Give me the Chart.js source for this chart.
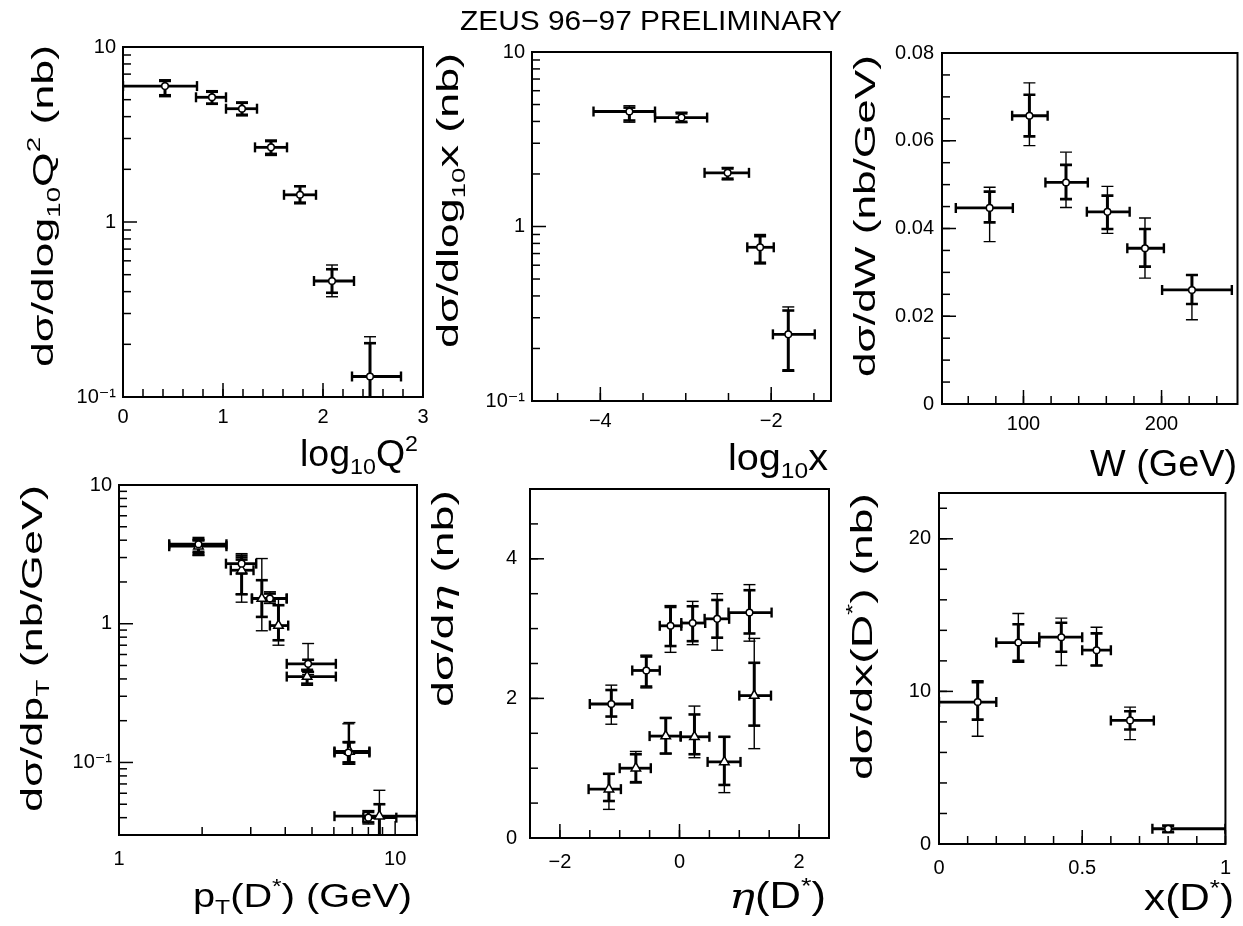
<!DOCTYPE html>
<html><head><meta charset="utf-8">
<script src="https://cdn.jsdelivr.net/npm/chart.js@4.4.0/dist/chart.umd.min.js"></script>
<style>
html,body{margin:0;padding:0;background:#fff;}
#wrap{position:relative;width:1243px;height:926px;overflow:hidden;background:#fff;}
#wrap canvas{position:absolute;left:0;top:0;}
</style></head><body>
<div id="wrap">
<canvas id="c1" width="1243" height="926"></canvas>
<canvas id="c2" width="1243" height="926"></canvas>
<canvas id="c3" width="1243" height="926"></canvas>
<canvas id="c4" width="1243" height="926"></canvas>
<canvas id="c5" width="1243" height="926"></canvas>
<canvas id="c6" width="1243" height="926"></canvas>
</div>
<script>
// ---------------- DATA ----------------
// Panel 1: d sigma / d log10 Q^2
const q2Centers = [0.42, 0.89, 1.19, 1.48, 1.77, 2.09, 2.47];
const q2Sigma   = [5.98, 5.16, 4.44, 2.67, 1.43, 0.46, 0.131];
const q2Bins    = [[0,0.74],[0.73,1.03],[1.03,1.34],[1.32,1.64],[1.61,1.93],[1.91,2.31],[2.29,2.78]];
const q2Stat    = [[5.3,6.4],[4.75,5.55],[4.1,4.8],[2.45,2.9],[1.29,1.6],[0.394,0.537],[0.06,0.203]];
const q2Total   = [[5.2,6.5],[4.7,5.63],[4.04,4.85],[2.4,2.94],[1.27,1.61],[0.374,0.568],[0.05,0.221]];

// Panel 2: d sigma / d log10 x
const xbjCenters = [-3.66, -3.05, -2.51, -2.13, -1.80];
const xbjSigma   = [4.56, 4.21, 2.03, 0.76, 0.241];
const xbjBins    = [[-4.08,-3.36],[-3.36,-2.75],[-2.78,-2.26],[-2.28,-1.97],[-1.98,-1.49]];
const xbjStat    = [[4.05,4.8],[3.98,4.45],[1.88,2.15],[0.62,0.88],[0.15,0.33]];
const xbjTotal   = [[3.96,4.92],[3.94,4.52],[1.85,2.18],[0.61,0.90],[0.148,0.346]];

// Panel 3: d sigma / dW
const wCenters = [75.5, 104.3, 130.8, 160.8, 188, 222];
const wSigma   = [0.0447, 0.0657, 0.0505, 0.0438, 0.0355, 0.026];
const wBins    = [[51,92.3],[91.8,117.5],[115.9,146.6],[145.9,176.9],[175.2,201.7],[200.4,250.9]];
const wStat    = [[0.0414,0.0484],[0.061,0.0705],[0.0467,0.0545],[0.0399,0.0475],[0.0313,0.0399],[0.0228,0.0294]];
const wTotal   = [[0.037,0.0494],[0.0589,0.0732],[0.0448,0.0574],[0.0389,0.0496],[0.0287,0.0424],[0.0192,0.0294]];

// Panel 4: d sigma / dpT  (circles and triangles)
const ptCircCenters = [1.94, 2.78, 3.52, 4.84, 6.77, 8.0];
const ptCircSigma   = [3.74, 2.71, 1.52, 0.514, 0.118, 0.040];
const ptCircBins    = [[1.52,2.45],[2.44,3.14],[3.03,4.05],[4.05,6.1],[6.03,8.07],[7.67,10.1]];
const ptCircStat    = [[3.3,4.0],[2.3,3.1],[1.45,1.65],[0.45,0.55],[0.1,0.14],[0.037,0.044]];
const ptCircTotal   = [[3.12,4.19],[1.63,3.2],[1.4,1.7],[0.43,0.72],[0.097,0.19],[0.036,0.045]];
const ptTriCenters  = [1.94, 2.78, 3.29, 3.78, 4.8, 6.83, 8.77];
const ptTriSigma    = [3.62, 2.43, 1.52, 0.97, 0.416, 0.12, 0.041];
const ptTriBins     = [[1.52,2.45],[2.54,3.07],[3.03,4.05],[3.52,4.1],[4.05,6.1],[6.03,8.07],[6.03,12]];
const ptTriStat     = [[3.2,4.0],[1.63,2.9],[1.12,2.06],[0.76,1.36],[0.37,0.46],[0.10,0.14],[0.025,0.05]];
const ptTriTotal    = [[3.1,4.1],[1.43,3.0],[0.89,2.95],[0.70,1.52],[0.36,0.47],[0.097,0.194],[0.02,0.063]];

// Panel 5: d sigma / d eta (circles and triangles)
const etaCircCenters = [-1.14, -0.555, -0.15, 0.22, 0.63, 1.17];
const etaCircSigma   = [1.92, 2.40, 3.04, 3.08, 3.14, 3.23];
const etaCircBins    = [[-1.5,-0.79],[-0.79,-0.33],[-0.33,0.03],[0.03,0.43],[0.42,0.83],[0.82,1.54]];
const etaCircStat    = [[1.74,2.12],[2.17,2.6],[2.75,3.31],[2.82,3.32],[2.87,3.41],[2.93,3.55]];
const etaCircTotal   = [[1.63,2.19],[2.15,2.62],[2.66,3.33],[2.77,3.39],[2.69,3.5],[2.82,3.63]];
const etaTriCenters  = [-1.18, -0.73, -0.23, 0.25, 0.75, 1.25];
const etaTriSigma    = [0.70, 1.0, 1.46, 1.45, 1.09, 2.04];
const etaTriBins     = [[-1.52,-0.98],[-1.0,-0.48],[-0.5,0.02],[0.02,0.5],[0.47,1.02],[1.0,1.53]];
const etaTriStat     = [[0.53,0.92],[0.8,1.2],[1.21,1.72],[1.2,1.77],[0.76,1.45],[1.61,2.51]];
const etaTriTotal    = [[0.41,0.92],[0.79,1.24],[1.21,1.72],[1.15,1.89],[0.65,1.45],[1.28,2.86]];

// Panel 6: d sigma / dx(D*)
const xdCenters = [0.135, 0.277, 0.427, 0.55, 0.667, 0.80];
const xdSigma   = [9.3, 13.2, 13.55, 12.7, 8.1, 1.0];
const xdBins    = [[0,0.2],[0.2,0.35],[0.35,0.5],[0.5,0.6],[0.6,0.75],[0.745,1.0]];
const xdStat    = [[8.15,10.6],[12.0,14.4],[12.6,14.5],[11.7,13.8],[7.5,8.7],[0.8,1.2]];
const xdTotal   = [[7.06,10.7],[11.9,15.1],[11.7,14.8],[11.7,14.2],[6.84,8.97],[0.74,1.24]];

// Tick values and labels
const q2TickVals = [0,1,2,3];          const q2TickLabels = ['0','1','2','3'];
const logTickVals = [0.1,1,10];        const logTickLabels = ['10\u207B\u00B9','1','10'];
const xbjTickVals = [-4,-2];           const xbjTickLabels = ['\u22124','\u22122'];
const wTickVals = [100,200];           const wTickLabels = ['100','200'];
const wYTickVals = [0,0.02,0.04,0.06,0.08]; const wYTickLabels = ['0','0.02','0.04','0.06','0.08'];
const ptTickVals = [1,10];             const ptTickLabels = ['1','10'];
const etaTickVals = [-2,0,2];          const etaTickLabels = ['\u22122','0','2'];
const etaYTickVals = [0,2,4];          const etaYTickLabels = ['0','2','4'];
const xdTickVals = [0,0.5,1];          const xdTickLabels = ['0','0.5','1'];
const xdYTickVals = [0,10,20];         const xdYTickLabels = ['0','10','20'];

const mainTitle = 'ZEUS 96\u221297 PRELIMINARY';

// ---------------- RENDERING ----------------
const FONT = "'Liberation Sans', 'DejaVu Sans', Arial, sans-serif";
const IFONT = "'DejaVu Serif', 'Liberation Serif', serif";
const YW = 70, XH = 50, PAGE_W = 1243, PAGE_H = 926;

function pts(xs, ys){ return xs.map((x,i)=>({x, y: ys[i]})); }
function linMinor(min,max,step){ const out=[]; for(let v=Math.ceil(min/step-1e-9)*step; v<=max+1e-9; v+=step) out.push(+v.toFixed(6)); return out; }
function logMinor(min,max){ const out=[]; for(let e=Math.floor(Math.log10(min)); e<=Math.ceil(Math.log10(max)); e++){ for(let m=2;m<=9;m++){ const v=m*Math.pow(10,e); if(v>=min*0.999 && v<=max*1.001) out.push(v);} } return out; }

function fontFor(s, sz){ return s.it ? ('italic ' + sz + 'px ' + IFONT) : (sz + 'px ' + FONT); }

function drawRich(ctx, segs, o){
  const S = o.size;
  let w = 0;
  const parts = segs.map(s => {
    const small = s.sub || s.sup;
    const sz = small ? S*0.62 : S;
    ctx.font = fontFor(s, sz);
    const mw = ctx.measureText(s.t).width;
    const p = {s, t:s.t, sz, x:w, dy: s.sub ? S*0.22 : (s.sup ? -S*0.42 : 0)};
    w += mw;
    return p;
  });
  const k = o.len ? o.len / w : 1;
  ctx.save();
  ctx.translate(o.x, o.y);
  if (o.rot) ctx.rotate(-Math.PI/2);
  ctx.scale(k, 1);
  const x0 = o.align === 'right' ? -w : (o.align === 'center' ? -w/2 : 0);
  ctx.fillStyle = '#000'; ctx.textBaseline = 'alphabetic'; ctx.textAlign = 'left';
  parts.forEach(p => { ctx.font = fontFor(p.s, p.sz); ctx.fillText(p.t, x0 + p.x, p.dy); });
  ctx.restore();
}

function seg(ctx, x1,y1,x2,y2){ ctx.beginPath(); ctx.moveTo(x1,y1); ctx.lineTo(x2,y2); ctx.stroke(); }

const pawPlugin = {
  id: 'paw',
  beforeDatasetsDraw(chart){
    const ctx = chart.ctx, ca = chart.chartArea;
    const xs = chart.scales.x, ys = chart.scales.y;
    ctx.save();
    ctx.beginPath(); ctx.rect(ca.left, ca.top, ca.right-ca.left, ca.bottom-ca.top); ctx.clip();
    ctx.strokeStyle = '#000'; ctx.lineCap = 'butt';
    chart.data.datasets.forEach(ds => {
      ds.data.forEach((p, j) => {
        const px = xs.getPixelForValue(p.x), py = ys.getPixelForValue(p.y);
        const [xl, xh] = ds.bins[j];
        const x1 = xs.getPixelForValue(xl), x2 = xs.getPixelForValue(xh);
        ctx.lineWidth = 2.8; seg(ctx, x1, py, x2, py);
        ctx.lineWidth = 2.4; seg(ctx, x1, py-5, x1, py+5); seg(ctx, x2, py-5, x2, py+5);
        const [tl, th] = ds.total[j];
        const t1 = ys.getPixelForValue(th), t2 = ys.getPixelForValue(tl);
        ctx.lineWidth = 1.4; seg(ctx, px, t1, px, t2);
        seg(ctx, px-6, t1, px+6, t1); seg(ctx, px-6, t2, px+6, t2);
        const [sl, sh] = ds.stat[j];
        const s1 = ys.getPixelForValue(sh), s2 = ys.getPixelForValue(sl);
        ctx.lineWidth = 3; seg(ctx, px, s1, px, s2);
        ctx.lineWidth = 2.6; seg(ctx, px-6, s1, px+6, s1); seg(ctx, px-6, s2, px+6, s2);
      });
    });
    ctx.restore();
  },
  afterDraw(chart, args, o){
    const ctx = chart.ctx, ca = chart.chartArea;
    const xs = chart.scales.x, ys = chart.scales.y;
    ctx.save();
    ctx.strokeStyle = '#000';
    ctx.lineWidth = 2;
    ctx.strokeRect(ca.left, ca.top, ca.right-ca.left, ca.bottom-ca.top);
    ctx.lineWidth = 1.5;
    const drawX = (vals, len) => vals.forEach(v => { const p = xs.getPixelForValue(v); if (p >= ca.left-0.5 && p <= ca.right+0.5) seg(ctx, p, ca.bottom, p, ca.bottom-len); });
    const drawY = (vals, len) => vals.forEach(v => { const p = ys.getPixelForValue(v); if (p >= ca.top-0.5 && p <= ca.bottom+0.5) seg(ctx, ca.left, p, ca.left+len, p); });
    drawX(o.xMinor, 8); drawY(o.yMinor, 8);
    drawX(xs.ticks.map(t=>t.value), 14); drawY(ys.ticks.map(t=>t.value), 14);
    ctx.restore();
    (o.titles || []).forEach(t => drawRich(ctx, t.segs, t));
  }
};

function axis(pos, type, min, max, vals, labels, pad){
  return {
    type, min, max, position: pos,
    grid: {display:false, drawTicks:false},
    border: {display:true, color:'#000', width:2},
    ticks: {color:'#000', font:{family:FONT, size:20}, padding:pad, autoSkip:false, maxRotation:0, minRotation:0,
            callback: (v, i) => labels[i]},
    afterBuildTicks: s => { s.ticks = vals.map(v => ({value:v})); },
    afterFit: s => { if (pos === 'left') s.width = YW; else s.height = XH; }
  };
}

function circSet(xs, ys, bins, stat, total){
  return {data: pts(xs, ys), bins, stat, total, showLine:false,
          pointStyle:'circle', pointRadius:3.3, pointBackgroundColor:'#fff',
          pointBorderColor:'#000', pointBorderWidth:1.5};
}
function triSet(xs, ys, bins, stat, total){
  return {data: pts(xs, ys), bins, stat, total, showLine:false,
          pointStyle:'triangle', pointRadius:5.5, pointBackgroundColor:'#fff',
          pointBorderColor:'#000', pointBorderWidth:1.5};
}

function makePanel(id, rect, datasets, xAxis, yAxis, xMinor, yMinor, titles){
  const [L, T, R, B] = rect;
  return new Chart(document.getElementById(id), {
    type: 'scatter',
    data: {datasets},
    options: {
      responsive:false, animation:false, devicePixelRatio:1, events:[],
      layout: {padding: {left: L - YW, top: T, right: PAGE_W - R, bottom: PAGE_H - B - XH}},
      scales: {x: xAxis, y: yAxis},
      plugins: {legend:{display:false}, tooltip:{enabled:false}, title:{display:false},
                paw: {xMinor, yMinor, titles}}
    },
    plugins: [pawPlugin]
  });
}

// Panel 1
makePanel('c1', [123, 47, 423, 397],
  [circSet(q2Centers, q2Sigma, q2Bins, q2Stat, q2Total)],
  axis('bottom','linear',0,3,q2TickVals,q2TickLabels,8),
  axis('left','logarithmic',0.1,10,logTickVals,logTickLabels,7),
  linMinor(0,3,0.2), logMinor(0.1,10),
  [{segs:[{t:'d\u03C3/dlog'},{t:'10',sub:true},{t:'Q'},{t:'2',sup:true},{t:' (nb)'}], x:53, y:367, size:30, len:322, rot:true},
   {segs:[{t:'log'},{t:'10',sub:true},{t:'Q'},{t:'2',sup:true}], x:418, y:466, size:36, len:118, align:'right'}]);

// Panel 2
makePanel('c2', [532, 52, 831, 401],
  [circSet(xbjCenters, xbjSigma, xbjBins, xbjStat, xbjTotal)],
  axis('bottom','linear',-4.8,-1.3,xbjTickVals,xbjTickLabels,8),
  axis('left','logarithmic',0.1,10,logTickVals,logTickLabels,7),
  linMinor(-4.8,-1.3,0.5), logMinor(0.1,10),
  [{segs:[{t:'d\u03C3/dlog'},{t:'10',sub:true},{t:'x (nb)'}], x:458, y:348, size:30, len:295, rot:true},
   {segs:[{t:'log'},{t:'10',sub:true},{t:'x'}], x:828, y:470, size:36, len:100, align:'right'},
   {segs:[{t:mainTitle}], x:651, y:30, size:28, len:382, align:'center'}]);

// Panel 3
makePanel('c3', [942, 53, 1239, 404],
  [circSet(wCenters, wSigma, wBins, wStat, wTotal)],
  axis('bottom','linear',41,255,wTickVals,wTickLabels,8),
  axis('left','linear',0,0.08,wYTickVals,wYTickLabels,8),
  linMinor(41,255,20), linMinor(0,0.08,0.005),
  [{segs:[{t:'d\u03C3/dW (nb/GeV)'}], x:875, y:377, size:30, len:322, rot:true},
   {segs:[{t:'W (GeV)'}], x:1237, y:476, size:36, len:147, align:'right'}]);

// Panel 4
makePanel('c4', [119, 485, 417, 835],
  [circSet(ptCircCenters, ptCircSigma, ptCircBins, ptCircStat, ptCircTotal),
   triSet(ptTriCenters, ptTriSigma, ptTriBins, ptTriStat, ptTriTotal)],
  axis('bottom','logarithmic',1,12,ptTickVals,ptTickLabels,12),
  axis('left','logarithmic',0.03,10,logTickVals,logTickLabels,7),
  logMinor(1,12), logMinor(0.03,10),
  [{segs:[{t:'d\u03C3/dp'},{t:'T',sub:true},{t:' (nb/GeV)'}], x:42, y:812, size:30, len:327, rot:true},
   {segs:[{t:'p'},{t:'T',sub:true},{t:'(D'},{t:'*',sup:true},{t:') (GeV)'}], x:412, y:907, size:34, len:219, align:'right'}]);

// Panel 5
makePanel('c5', [530, 489, 829, 838],
  [circSet(etaCircCenters, etaCircSigma, etaCircBins, etaCircStat, etaCircTotal),
   triSet(etaTriCenters, etaTriSigma, etaTriBins, etaTriStat, etaTriTotal)],
  axis('bottom','linear',-2.5,2.5,etaTickVals,etaTickLabels,12),
  axis('left','linear',0,5,etaYTickVals,etaYTickLabels,13),
  linMinor(-2.5,2.5,0.5), linMinor(0,5,0.5),
  [{segs:[{t:'d\u03C3/d'},{t:'\u03B7',it:true},{t:' (nb)'}], x:453, y:707, size:30, len:217, rot:true},
   {segs:[{t:'\u03B7',it:true},{t:'(D'},{t:'*',sup:true},{t:')'}], x:826, y:908, size:36, len:97, align:'right'}]);

// Panel 6
makePanel('c6', [939, 493, 1237, 844],
  [circSet(xdCenters, xdSigma, xdBins, xdStat, xdTotal)],
  axis('bottom','linear',0,1,xdTickVals,xdTickLabels,12),
  axis('left','linear',0,23,xdYTickVals,xdYTickLabels,8),
  linMinor(0,1,0.1), linMinor(0,23,2),
  [{segs:[{t:'d\u03C3/dx(D'},{t:'*',sup:true},{t:') (nb)'}], x:872, y:780, size:30, len:287, rot:true},
   {segs:[{t:'x(D'},{t:'*',sup:true},{t:')'}], x:1234, y:910, size:36, len:90, align:'right'}]);
</script>
</body></html>
